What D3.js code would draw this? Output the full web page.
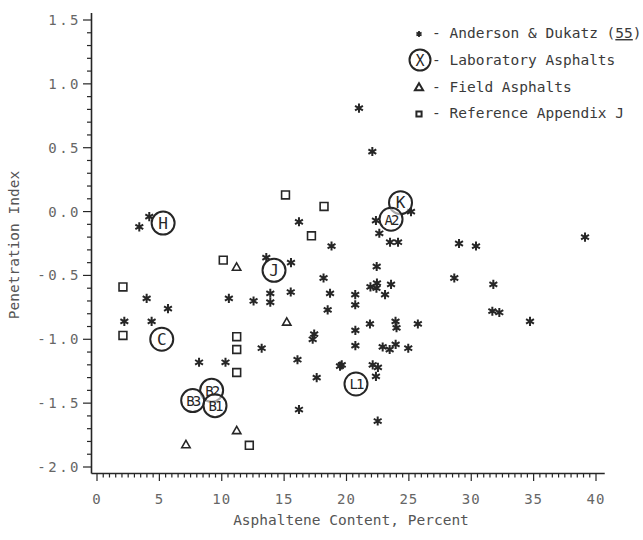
<!DOCTYPE html>
<html>
<head>
<meta charset="utf-8">
<script src="https://cdn.jsdelivr.net/npm/d3@7"></script>
<style>
  body { margin: 0; background: #fff; }
  text { font-family: "DejaVu Sans Mono", monospace; }
</style>
</head>
<body>
<div id="chart"></div>
<script>
//data
var andersonX = [3.39, 4.19, 3.98, 5.69, 2.19, 4.38, 8.18, 10.30, 10.57, 12.55, 13.57, 15.55, 13.89, 13.89, 15.53,
                 13.20, 16.07, 16.19, 16.19, 18.80, 18.16, 18.68, 18.49, 17.41, 17.29, 17.61, 20.70, 20.70, 20.71,
                 20.71, 19.48, 19.62, 21.00, 22.07, 22.36, 25.17, 22.63, 23.49, 24.13, 22.42, 22.44, 21.92, 22.40,
                 23.57, 23.09, 21.88, 23.93, 24.01, 25.72, 22.90, 23.46, 23.94, 24.95, 22.10, 22.52, 22.36, 22.50,
                 29.02, 30.38, 39.12, 28.64, 31.77, 31.69, 32.25, 34.71];
var andersonY = [-0.12, -0.04, -0.68, -0.76, -0.86, -0.86, -1.18, -1.18, -0.68, -0.70, -0.36, -0.40, -0.64, -0.71, -0.63,
                 -1.07, -1.16, -1.55, -0.08, -0.27, -0.52, -0.64, -0.77, -0.96, -1.00, -1.30, -0.65, -0.73, -0.93,
                 -1.05, -1.21, -1.20, 0.81, 0.47, -0.07, 0.00, -0.17, -0.24, -0.24, -0.43, -0.56, -0.59, -0.60,
                 -0.57, -0.65, -0.88, -0.86, -0.91, -0.88, -1.06, -1.08, -1.04, -1.07, -1.20, -1.22, -1.29, -1.64,
                 -0.25, -0.27, -0.20, -0.52, -0.57, -0.78, -0.79, -0.86];

var labNames = ["H", "C", "B2", "B3", "B1", "J", "K", "A2", "L1"];
var labX = [5.30, 5.19, 9.19, 7.67, 9.46, 14.19, 24.33, 23.57, 20.76];
var labY = [-0.09, -1.00, -1.40, -1.48, -1.52, -0.46, 0.07, -0.06, -1.35];

var fieldX = [11.19, 15.21, 11.20, 7.13];
var fieldY = [-0.44, -0.87, -1.72, -1.83];

var refX = [2.08, 2.08, 10.12, 11.20, 11.20, 11.20, 12.21, 15.11, 18.20, 17.19];
var refY = [-0.59, -0.97, -0.38, -0.98, -1.08, -1.26, -1.83, 0.13, 0.04, -0.19];

var xTicks = [0, 5, 10, 15, 20, 25, 30, 35, 40];
var xTickLabels = ["0", "5", "10", "15", "20", "25", "30", "35", "40"];
var yTicks = [1.5, 1.0, 0.5, 0.0, -0.5, -1.0, -1.5, -2.0];
var yTickLabels = ["1.5", "1.0", "0.5", "0.0", "-0.5", "-1.0", "-1.5", "-2.0"];

var legendLabels = ["Anderson & Dukatz (", "Laboratory Asphalts", "Field Asphalts", "Reference Appendix J"];

var ink = "#262626";
var grey = "#666";

var svg = d3.select("#chart")
            .append("svg")
            .attr("width", 643)
            .attr("height", 540);

//scales
var x = d3.scaleLinear().domain([0, 40]).range([97, 596]);
var y = d3.scaleLinear().domain([-2, 1.5]).range([467, 20]);

//axis lines
svg.append("line")
    .attr("x1", 91.5).attr("x2", 91.5)
    .attr("y1", y(1.555)).attr("y2", 473.5)
    .attr("stroke", ink).attr("stroke-width", 1.6);

svg.append("line")
    .attr("x1", 91.5).attr("x2", x(40.7))
    .attr("y1", 473.5).attr("y2", 473.5)
    .attr("stroke", ink).attr("stroke-width", 1.6);

//minor + major ticks on y
var yMinor = d3.range(-20, 16).map(function(d){ return d / 10; });
svg.append("g").selectAll("line")
    .data(yMinor)
    .join("line")
    .attr("x1", function(d){ return Math.abs(d * 2 - Math.round(d * 2)) < 1e-6 ? 83 : 87; })
    .attr("x2", 91.5)
    .attr("y1", function(d){ return y(d); })
    .attr("y2", function(d){ return y(d); })
    .attr("stroke", ink).attr("stroke-width", 1.2);

svg.append("g").selectAll("text")
    .data(yTicks)
    .join("text")
    .attr("x", 81)
    .attr("y", function(d){ return y(d) + 5; })
    .attr("text-anchor", "end")
    .attr("font-size", 14)
    .attr("letter-spacing", 2.5)
    .attr("fill", grey)
    .text(function(d, i){ return yTickLabels[i]; });

//minor + major ticks on x
var xMinor = d3.range(0, 81).map(function(d){ return d / 2; });
svg.append("g").selectAll("line")
    .data(xMinor)
    .join("line")
    .attr("x1", function(d){ return x(d); })
    .attr("x2", function(d){ return x(d); })
    .attr("y1", 473.5)
    .attr("y2", function(d){ return d % 5 === 0 ? 481 : 477.5; })
    .attr("stroke", ink).attr("stroke-width", 1.2);

svg.append("g").selectAll("text")
    .data(xTicks)
    .join("text")
    .attr("x", function(d){ return x(d); })
    .attr("y", 504)
    .attr("text-anchor", "middle")
    .attr("font-size", 14)
    .attr("letter-spacing", 1)
    .attr("fill", grey)
    .text(function(d, i){ return xTickLabels[i]; });

//axis titles
svg.append("text")
    .attr("transform", "translate(19,245) rotate(-90)")
    .attr("text-anchor", "middle")
    .attr("font-size", 14.5)
    .attr("fill", "#555")
    .text("Penetration Index");

svg.append("text")
    .attr("x", 351)
    .attr("y", 525)
    .attr("text-anchor", "middle")
    .attr("font-size", 14.5)
    .attr("fill", "#555")
    .text("Asphaltene Content, Percent");

//Anderson & Dukatz points as asterisks
var star = d3.symbol().type(d3.symbolAsterisk).size(58);
svg.append("g").selectAll("path")
    .data(andersonX)
    .join("path")
    .attr("transform", function(d, i){ return "translate(" + x(d) + "," + y(andersonY[i]) + ")"; })
    .attr("d", star)
    .attr("fill", "none")
    .attr("stroke", ink)
    .attr("stroke-width", 2);

//field asphalts as open triangles
var tri = d3.symbol().type(d3.symbolTriangle2).size(50);
svg.append("g").selectAll("path")
    .data(fieldX)
    .join("path")
    .attr("transform", function(d, i){ return "translate(" + x(d) + "," + y(fieldY[i]) + ")"; })
    .attr("d", tri)
    .attr("fill", "none")
    .attr("stroke", ink)
    .attr("stroke-width", 1.6);

//reference appendix J as open squares
var sq = d3.symbol().type(d3.symbolSquare2).size(78);
svg.append("g").selectAll("path")
    .data(refX)
    .join("path")
    .attr("transform", function(d, i){ return "translate(" + x(d) + "," + y(refY[i]) + ")"; })
    .attr("d", sq)
    .attr("fill", "none")
    .attr("stroke", ink)
    .attr("stroke-width", 1.6);

//laboratory asphalts as labelled circles
var lab = svg.append("g").selectAll("g")
    .data(labNames)
    .join("g")
    .attr("transform", function(d, i){ return "translate(" + x(labX[i]) + "," + y(labY[i]) + ")"; });

lab.append("circle")
    .attr("r", 11.5)
    .attr("fill", "#fff")
    .attr("fill-opacity", 0.6)
    .attr("stroke", ink)
    .attr("stroke-width", 2);

lab.append("text")
    .attr("y", 5.5)
    .attr("text-anchor", "middle")
    .attr("font-size", function(d){ return d.length > 1 ? 14 : 16; })
    .attr("letter-spacing", function(d){ return d.length > 1 ? -2 : 0; })
    .attr("fill", ink)
    .text(function(d){ return d; });

//legend
var legend = svg.append("g");
var rowY = [33, 60, 87, 113];

legend.append("path")
    .attr("transform", "translate(419," + (rowY[0] + 1) + ")")
    .attr("d", d3.symbol().type(d3.symbolAsterisk).size(24))
    .attr("fill", "none").attr("stroke", ink).attr("stroke-width", 1.8);

legend.append("circle")
    .attr("cx", 420).attr("cy", rowY[1])
    .attr("r", 10.5)
    .attr("fill", "none").attr("stroke", ink).attr("stroke-width", 2);

legend.append("text")
    .attr("x", 420).attr("y", rowY[1] + 5.5)
    .attr("text-anchor", "middle")
    .attr("font-size", 15)
    .attr("fill", ink)
    .text("X");

legend.append("path")
    .attr("transform", "translate(419," + (rowY[2] + 1) + ")")
    .attr("d", d3.symbol().type(d3.symbolTriangle2).size(48))
    .attr("fill", "none").attr("stroke", ink).attr("stroke-width", 2);

legend.append("path")
    .attr("transform", "translate(419," + (rowY[3] + 1) + ")")
    .attr("d", d3.symbol().type(d3.symbolSquare2).size(34))
    .attr("fill", "none").attr("stroke", ink).attr("stroke-width", 2);

legend.selectAll("text.lbl")
    .data(legendLabels)
    .join("text")
    .attr("class", "lbl")
    .attr("x", 432)
    .attr("y", function(d, i){ return rowY[i] + 5; })
    .attr("font-size", 14.5)
    .attr("fill", "#3a3a3a")
    .text(function(d){ return "- " + d; });

//the "(55)" reference number is underlined in the original
var first = legend.select("text.lbl");
first.append("tspan")
    .style("text-decoration", "underline")
    .text("55");
first.append("tspan")
    .text(")");
</script>
</body>
</html>
